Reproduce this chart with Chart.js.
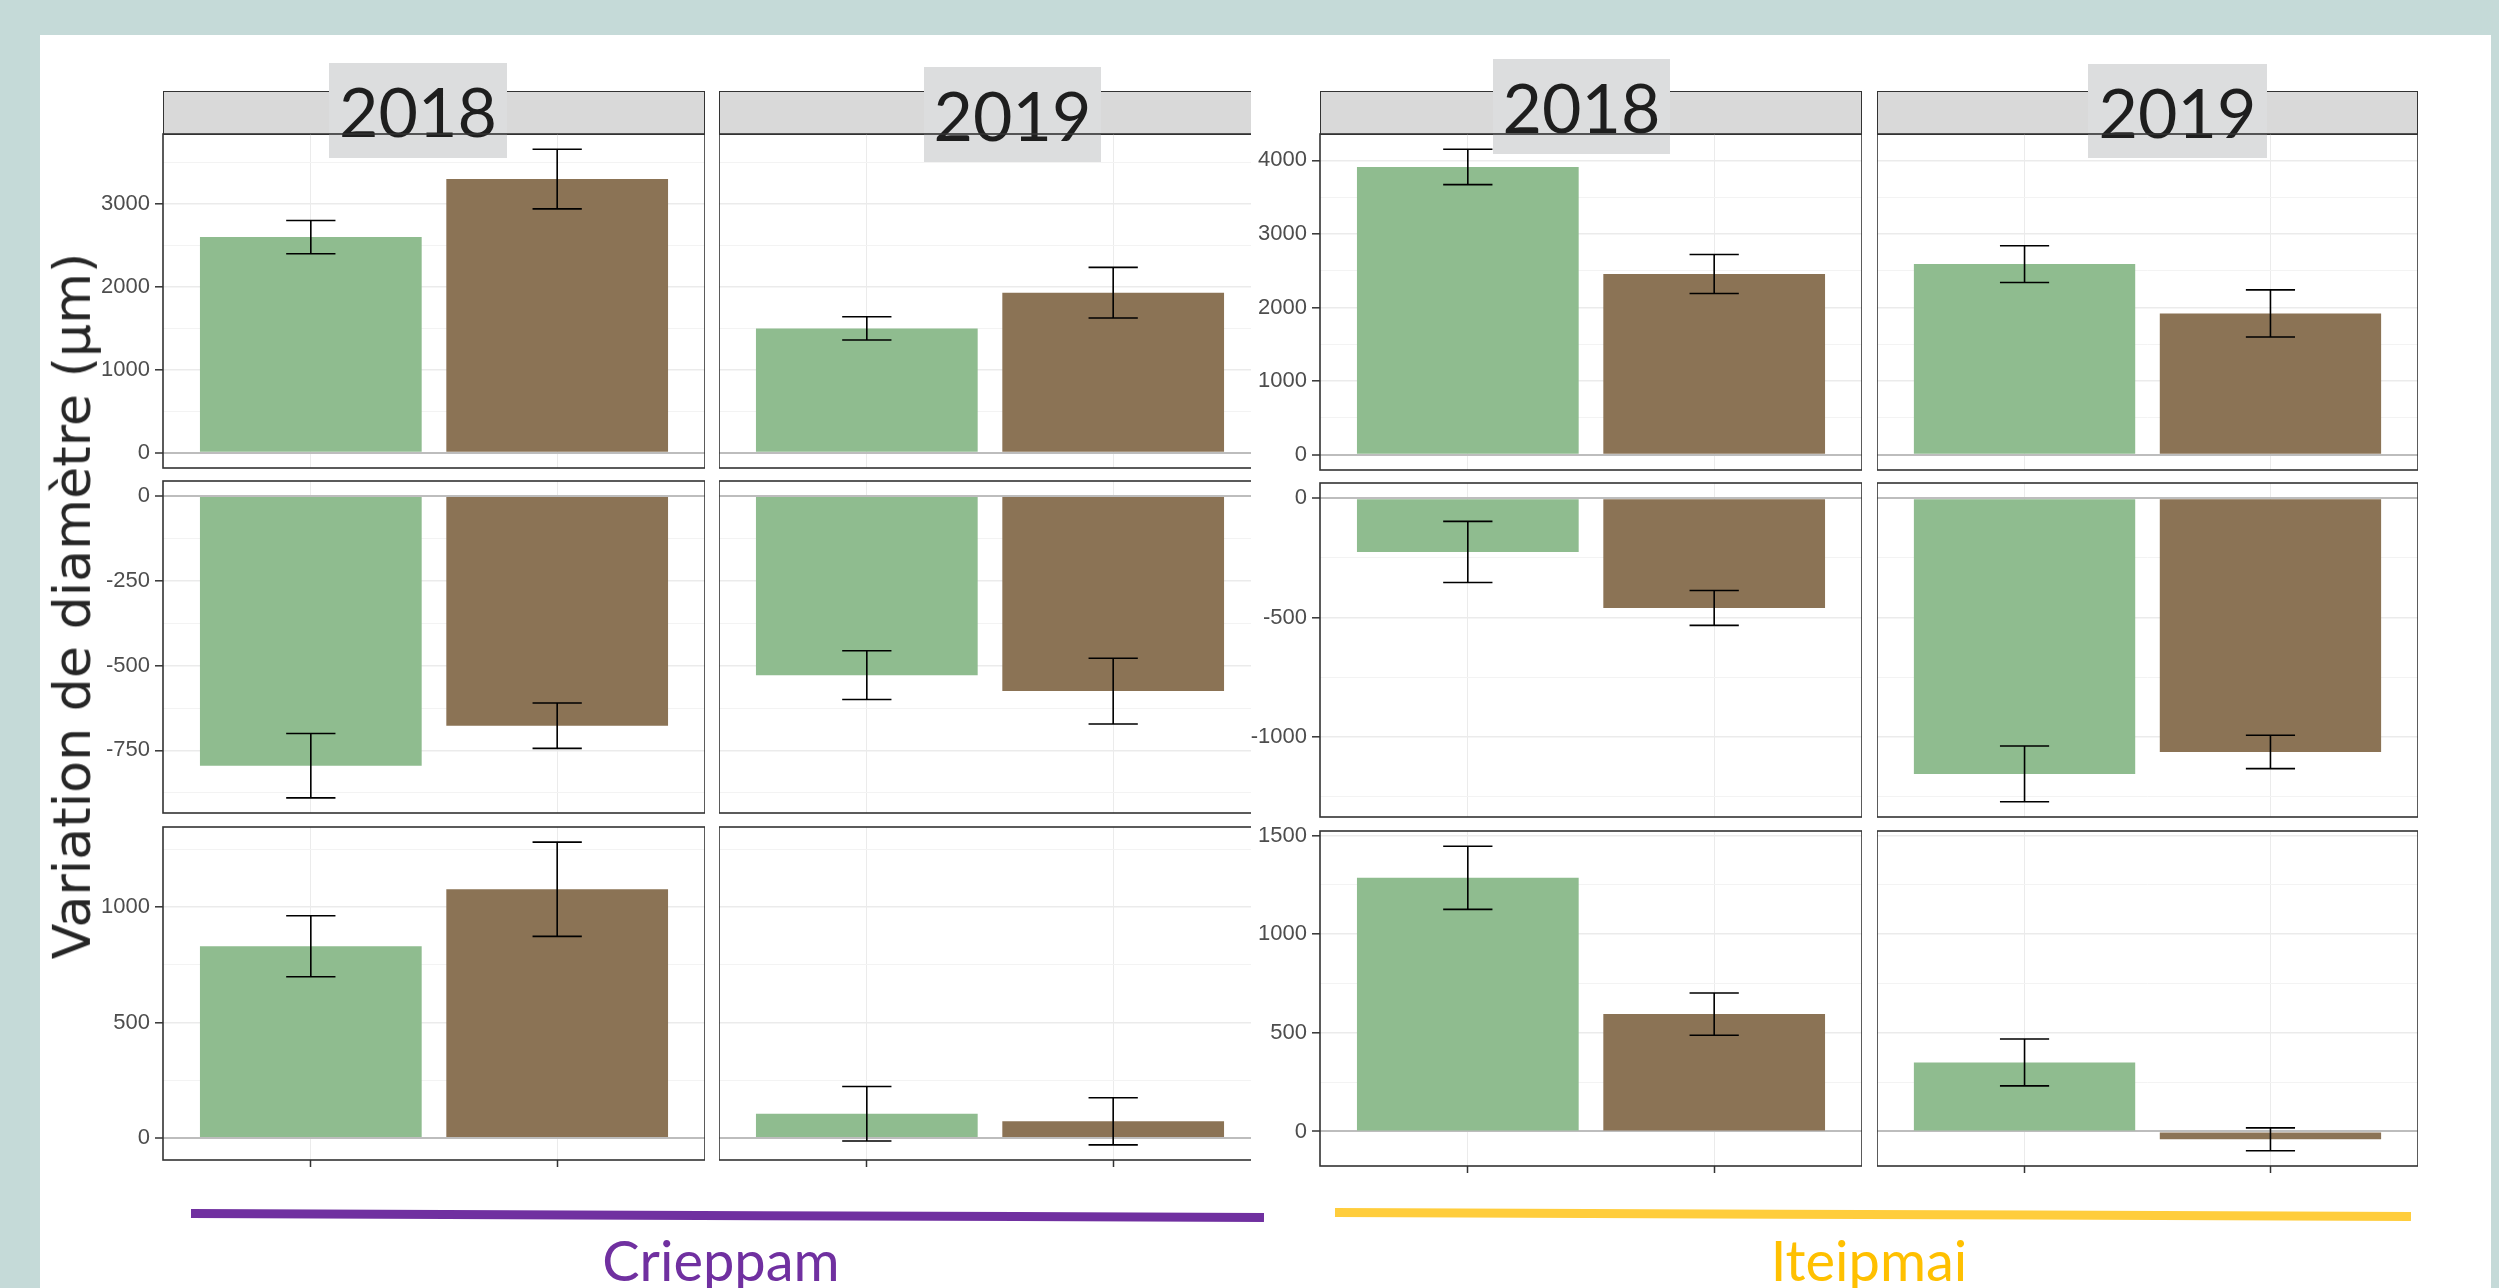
<!DOCTYPE html>
<html>
<head>
<meta charset="utf-8">
<script src="https://cdn.jsdelivr.net/npm/chart.js"></script>
<style>
html, body { margin: 0; padding: 0; }
body { width: 2499px; height: 1288px; background: #C5DAD8; position: relative; overflow: hidden; font-family: "Liberation Sans", Arial, sans-serif; }
#sheet { position: absolute; left: 40px; top: 35px; width: 2451px; height: 1253px; background: #fff; }
.grp { position: absolute; left: 0; top: 0; height: 1288px; overflow: hidden; }
canvas { position: absolute; }
.strip { position: absolute; background: #D9D9D9; border: 1.5px solid #333; box-sizing: border-box; }
.year { position: absolute; background: #DCDDDE; font-family: Lato, sans-serif; font-size: 68px; color: #1e1e1e;
        display: flex; align-items: center; justify-content: center; }
.rule { position: absolute; height: 9px; transform-origin: 0 50%; }
.site { position: absolute; font-family: Lato, sans-serif; font-size: 56px; line-height: 56px; white-space: nowrap; transform: translateX(-50%); }
#ytitle { position: absolute; white-space: nowrap; line-height: 1; color: #262626; font-family: "DejaVu Sans", sans-serif;
          transform: translate(-50%, -50%) rotate(-90deg); }
</style>
</head>
<body>
<div id="sheet"></div>
<div class="grp" id="grpCrieppam" style="width:1251px"></div>
<div class="grp" id="grpIteipmai" style="width:2499px"></div>

<script>
// categories
const groupNames = ['Crieppam', 'Iteipmai'];
const yearNames = ['2018', '2019'];
const treatments = [1, 2];   // the two bars in each panel (green, brown)

// means, rows top -> bottom, each row: [2018 green, 2018 brown, 2019 green, 2019 brown]
const crieppamMean = [
    [2600, 3300, 1500, 1930],
    [-795, -677, -528, -575],
    [830, 1077, 105, 72]
];
const crieppamErr = [
    [200, 360, 140, 305],
    [95, 67, 72, 97],
    [132, 204, 118, 102]
];
const iteipmaiMean = [
    [3910, 2455, 2590, 1920],
    [-225, -460, -1155, -1063],
    [1286, 595, 350, -40]
];
const iteipmaiErr = [
    [240, 265, 250, 320],
    [128, 73, 117, 70],
    [160, 107, 119, 58]
];

// labelled y ticks per row
const crieppamTicks = [[0, 1000, 2000, 3000], [-750, -500, -250, 0], [0, 500, 1000]];
const iteipmaiTicks = [[0, 1000, 2000, 3000, 4000], [-1000, -500, 0], [0, 500, 1000, 1500]];

const GREEN = '#8FBC8F';
const BROWN = '#8B7355';

// panel geometry (px)
const layouts = {
    Crieppam: { cols: [163, 719], widths: [542, 542], rows: [[134, 468], [481, 813], [827, 1160]] },
    Iteipmai: { cols: [1320, 1877], widths: [542, 541], rows: [[134, 470], [483, 817], [831, 1166]] }
};
const yearBoxes = {
    Crieppam: [[329, 63, 178, 95], [924, 67, 177, 95]],
    Iteipmai: [[1493, 59, 177, 95], [2088, 64, 179, 94]]
};

// ggplot style range: include 0, expand 5%
function rowRange(mean, err) {
    let lo = 0, hi = 0;
    mean.forEach((m, i) => {
        lo = Math.min(lo, m - err[i]);
        hi = Math.max(hi, m + err[i]);
    });
    const pad = (hi - lo) * 0.05;
    return [lo - pad, hi + pad];
}

function allTicks(major, min, max) {
    const half = (major[1] - major[0]) / 2;
    const out = [];
    for (let v = Math.ceil(min / half) * half; v <= max; v += half) out.push(v);
    return out;
}

function makePanel(parent, x, top, w, h, p) {
    const AX = p.axis ? 70 : 0;
    const M = 14;
    const cv = document.createElement('canvas');
    cv.width = w + AX;
    cv.height = h + 2 * M;
    cv.style.left = (x - AX) + 'px';
    cv.style.top = (top - M) + 'px';
    parent.appendChild(cv);

    const majorSet = new Set(p.major);
    const isMajor = c => c.tick && majorSet.has(c.tick.value);

    const panelPlugin = {
        id: 'panelDeco',
        afterDatasetsDraw(chart) {
            const { ctx, scales: { x: xs, y: ys } } = chart;
            ctx.save();
            ctx.strokeStyle = '#000';
            ctx.lineWidth = 1.6;
            treatments.forEach((t, i) => {
                const px = xs.getPixelForValue(t);
                const y1 = ys.getPixelForValue(p.mean[i] - p.err[i]);
                const y2 = ys.getPixelForValue(p.mean[i] + p.err[i]);
                const c1 = xs.getPixelForValue(t - 0.1);
                const c2 = xs.getPixelForValue(t + 0.1);
                ctx.beginPath();
                ctx.moveTo(px, y1); ctx.lineTo(px, y2);
                ctx.moveTo(c1, y1); ctx.lineTo(c2, y1);
                ctx.moveTo(c1, y2); ctx.lineTo(c2, y2);
                ctx.stroke();
            });
            ctx.restore();
        },
        afterDraw(chart) {
            const a = chart.chartArea;
            const ctx = chart.ctx;
            ctx.save();
            ctx.strokeStyle = '#333';
            ctx.lineWidth = 1.6;
            ctx.strokeRect(a.left, a.top, a.right - a.left, a.bottom - a.top);
            ctx.restore();
        }
    };

    new Chart(cv, {
        type: 'bar',
        data: {
            datasets: [{
                data: treatments.map((t, i) => ({ x: t, y: p.mean[i] })),
                backgroundColor: [GREEN, BROWN],
                borderWidth: 0,
                categoryPercentage: 0.9,
                barPercentage: 1
            }]
        },
        options: {
            responsive: false,
            animation: false,
            devicePixelRatio: 1,
            layout: { padding: { top: M, bottom: M, left: 0, right: 0 } },
            plugins: { legend: { display: false }, tooltip: { enabled: false } },
            scales: {
                x: {
                    type: 'linear', min: 0.4, max: 2.6, offset: false,
                    afterBuildTicks: s => { s.ticks = treatments.map(v => ({ value: v })); },
                    ticks: { display: false },
                    grid: { offset: false, color: '#EBEBEB', lineWidth: 1, drawTicks: p.xTicks, tickLength: 7, tickColor: '#333', tickWidth: 1.5 },
                    border: { display: false },
                    afterFit: s => { s.height = 0; s.paddingLeft = 0; s.paddingRight = 0; }
                },
                y: {
                    type: 'linear', min: p.min, max: p.max,
                    afterBuildTicks: s => { s.ticks = p.all.map(v => ({ value: v })); },
                    ticks: {
                        display: p.axis, autoSkip: false, padding: 5,
                        callback: v => majorSet.has(v) ? String(v) : '',
                        font: { family: 'Liberation Sans', size: 22 },
                        color: '#4D4D4D'
                    },
                    grid: {
                        color: c => (c.tick && c.tick.value === 0) ? '#BDBDBD' : (isMajor(c) ? '#EBEBEB' : '#F3F3F3'),
                        lineWidth: c => (c.tick && c.tick.value === 0) ? 2 : (isMajor(c) ? 1.6 : 1),
                        drawTicks: p.axis, tickLength: 8, tickWidth: 1.5,
                        tickColor: c => isMajor(c) ? '#333' : 'rgba(0,0,0,0)'
                    },
                    border: { display: false },
                    afterFit: s => { s.width = AX; s.paddingTop = 0; s.paddingBottom = 0; }
                }
            }
        },
        plugins: [panelPlugin]
    });
}

function buildGroup(name, means, errs, ticks) {
    const L = layouts[name];
    const parent = document.getElementById('grp' + name);

    // facet strips and year boxes
    yearNames.forEach((yr, c) => {
        const s = document.createElement('div');
        s.className = 'strip';
        s.style.left = L.cols[c] + 'px';
        s.style.top = '91px';
        s.style.width = L.widths[c] + 'px';
        s.style.height = '44px';
        parent.appendChild(s);
        const b = yearBoxes[name][c];
        const y = document.createElement('div');
        y.className = 'year';
        y.textContent = yr;
        y.style.left = b[0] + 'px'; y.style.top = b[1] + 'px';
        y.style.width = b[2] + 'px'; y.style.height = b[3] + 'px';
        parent.appendChild(y);
    });

    means.forEach((row, r) => {
        const [min, max] = rowRange(row, errs[r]);
        const all = allTicks(ticks[r], min, max);
        const [top, bottom] = L.rows[r];
        yearNames.forEach((yr, c) => {
            makePanel(parent, L.cols[c], top, L.widths[c], bottom - top, {
                axis: c === 0,
                xTicks: r === means.length - 1,
                mean: row.slice(c * 2, c * 2 + 2),
                err: errs[r].slice(c * 2, c * 2 + 2),
                min, max, all, major: ticks[r]
            });
        });
    });
}

buildGroup('Crieppam', crieppamMean, crieppamErr, crieppamTicks);
buildGroup('Iteipmai', iteipmaiMean, iteipmaiErr, iteipmaiTicks);

// coloured rules and site names under each group
function addRule(x1, y1, x2, y2, color) {
    const d = document.createElement('div');
    d.className = 'rule';
    const len = Math.hypot(x2 - x1, y2 - y1);
    d.style.left = x1 + 'px';
    d.style.top = (y1 - 4.5) + 'px';
    d.style.width = len + 'px';
    d.style.background = color;
    d.style.transform = 'rotate(' + Math.atan2(y2 - y1, x2 - x1) + 'rad)';
    document.body.appendChild(d);
}
function addSite(text, cx, color) {
    const d = document.createElement('div');
    d.className = 'site';
    d.textContent = text;
    d.style.left = cx + 'px';
    d.style.top = '1232px';
    d.style.color = color;
    document.body.appendChild(d);
}
addRule(191, 1213, 1264, 1217, '#7030A0');
addRule(1335, 1212.5, 2411, 1216.5, '#FFCD3C');
addSite(groupNames[0], 721, '#7030A0');
addSite(groupNames[1], 1869, '#FFC000');

// y-axis title, sized to span the same height as in the figure
const yTitle = 'Variation de diamètre (µm)';
const mctx = document.createElement('canvas').getContext('2d');
mctx.font = '52px "DejaVu Sans"';
const titleSize = 52 * 707 / mctx.measureText(yTitle).width;
const t = document.createElement('div');
t.id = 'ytitle';
t.textContent = yTitle;
t.style.fontSize = titleSize.toFixed(1) + 'px';
t.style.left = '72px';
t.style.top = '606px';
document.body.appendChild(t);
</script>
</body>
</html>
